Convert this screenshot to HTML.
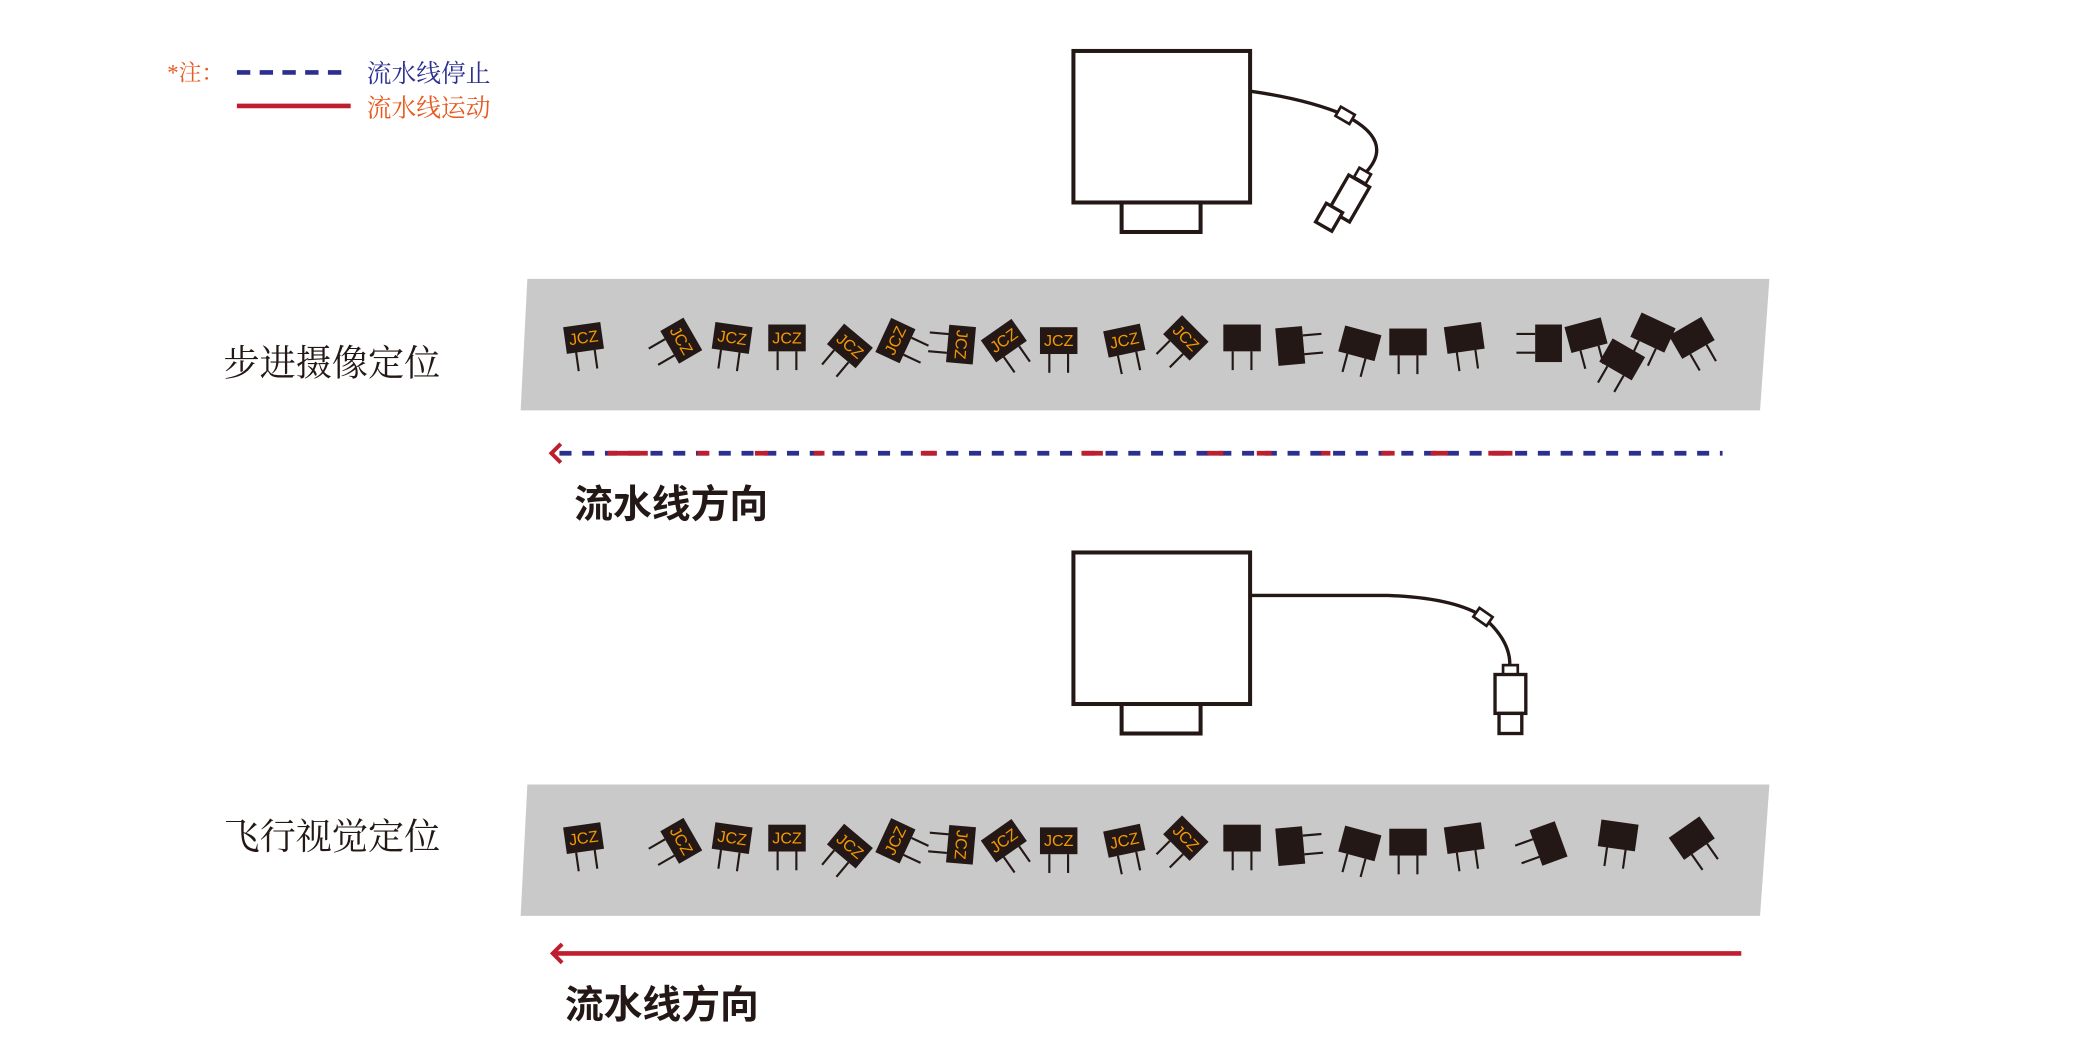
<!DOCTYPE html>
<html><head><meta charset="utf-8"><style>html,body{margin:0;padding:0;background:#fff}svg{display:block}</style></head>
<body>
<svg width="2100" height="1054" viewBox="-2 0 1569 786" preserveAspectRatio="none" xmlns="http://www.w3.org/2000/svg">
<defs>
<g id="c"><rect x="-14" y="-10" width="28" height="20" fill="#231815"/><line x1="-7" y1="10" x2="-7" y2="24" stroke="#231815" stroke-width="1.6"/><line x1="7" y1="10" x2="7" y2="24" stroke="#231815" stroke-width="1.6"/></g>
<g id="j"><use href="#c"/><text x="0" y="4" font-family="Liberation Sans, sans-serif" font-size="12" fill="#f39800" text-anchor="middle">JCZ</text></g>
</defs>
<!-- legend -->
<text x="123" y="60" font-family="Liberation Serif, 'Noto Serif CJK SC', serif" font-size="17" fill="#e8591f">*注：</text>
<line x1="175" y1="54" x2="260" y2="54" stroke="#2b2f8f" stroke-width="3.5" stroke-dasharray="10 7"/>
<text x="272" y="61" font-family="'Noto Serif CJK SC', serif" font-size="18.5" fill="#2b2f8f">流水线停止</text>
<line x1="175" y1="79" x2="260" y2="79" stroke="#be1e2d" stroke-width="3.5"/>
<text x="272" y="87" font-family="'Noto Serif CJK SC', serif" font-size="18.5" fill="#e8591f">流水线运动</text>

<!-- camera 1 -->
<g fill="#fff" stroke="#231815" stroke-width="3">
<rect x="800" y="38" width="132" height="113"/>
<rect x="836" y="151" width="59" height="22"/>
<path d="M932 68 Q975 74 1003 86 Q1040 105 1019 128" fill="none" stroke-width="2.5"/>
<rect x="-6" y="-4" width="12" height="8" transform="translate(1003,86) rotate(30)" stroke-width="2"/>
<rect x="-5" y="-4" width="10" height="8" transform="translate(1016,131) rotate(30)" stroke-width="2"/>
<rect x="-9" y="-15" width="18" height="30" transform="translate(1006,148) rotate(30)" stroke-width="2.5"/>
<rect x="-7" y="-8" width="14" height="16" transform="translate(991,162) rotate(30)" stroke-width="2.5"/>
</g>
<!-- band 1 -->
<polygon points="392,208 1320,208 1313,306 387,306" fill="#c9c9c9"/>
<text x="165" y="280" font-family="'Noto Serif CJK SC', serif" font-size="27" fill="#231815">步进摄像定位</text>
<g>
<use href="#j" transform="translate(434,252) rotate(-8)"/>
<use href="#j" transform="translate(507,254) rotate(60)"/>
<use href="#j" transform="translate(545,252) rotate(8)"/>
<use href="#j" transform="translate(586,252)"/>
<use href="#j" transform="translate(633,258) rotate(40)"/>
<use href="#j" transform="translate(667,254) rotate(-65)"/>
<use href="#j" transform="translate(716,257) rotate(95)"/>
<use href="#j" transform="translate(748,254) rotate(-35)"/>
<use href="#j" transform="translate(789,254)"/>
<use href="#j" transform="translate(838,254) rotate(-12)"/>
<use href="#j" transform="translate(884,252) rotate(45)"/>
<use href="#c" transform="translate(926,252)"/>
<use href="#c" transform="translate(962,258) rotate(-95)"/>
<use href="#c" transform="translate(1014,256) rotate(15)"/>
<use href="#c" transform="translate(1050,255)"/>
<use href="#c" transform="translate(1092,252) rotate(-8)"/>
<use href="#c" transform="translate(1155,256) rotate(90)"/>
<use href="#c" transform="translate(1183,250) rotate(-15)"/>
<use href="#c" transform="translate(1210,268) rotate(30)"/>
<use href="#c" transform="translate(1233,248) rotate(25)"/>
<use href="#c" transform="translate(1262,252) rotate(-30)"/>
</g>
<!-- dashed direction -->
<line x1="416" y1="338" x2="1285" y2="338" stroke="#2b2f8f" stroke-width="3.5" stroke-dasharray="9 8"/>
<g stroke="#be1e2d" stroke-width="3.5">
<line x1="452" y1="338" x2="482" y2="338"/><line x1="519" y1="338" x2="528" y2="338"/><line x1="562" y1="338" x2="572" y2="338"/><line x1="606" y1="338" x2="614" y2="338"/><line x1="686" y1="338" x2="698" y2="338"/><line x1="806" y1="338" x2="822" y2="338"/><line x1="900" y1="338" x2="912" y2="338"/><line x1="937" y1="338" x2="948" y2="338"/><line x1="985" y1="338" x2="992" y2="338"/><line x1="1030" y1="338" x2="1040" y2="338"/><line x1="1067" y1="338" x2="1080" y2="338"/><line x1="1110" y1="338" x2="1128" y2="338"/>
</g>
<polyline points="417,331 410,338 417,345" fill="none" stroke="#be1e2d" stroke-width="3"/>
<text x="427" y="386" font-family="'Noto Sans CJK SC', sans-serif" font-size="29" font-weight="bold" fill="#231815">流水线方向</text>

<!-- camera 2 -->
<g fill="#fff" stroke="#231815" stroke-width="3">
<rect x="800" y="412" width="132" height="113"/>
<rect x="836" y="525" width="59" height="22"/>
<path d="M932 444 L1035 444 Q1085 446 1106 460 Q1127 478 1126 497" fill="none" stroke-width="2.5"/>
<rect x="-6" y="-4" width="12" height="8" transform="translate(1106,460) rotate(35)" stroke-width="2"/>
<rect x="1121" y="496" width="11" height="7" stroke-width="2"/>
<rect x="1115" y="503" width="23" height="29" stroke-width="2.5"/>
<rect x="1118" y="532" width="17" height="15" stroke-width="2.5"/>
</g>
<!-- band 2 -->
<polygon points="392,585 1320,585 1313,683 387,683" fill="#c9c9c9"/>
<text x="165" y="633" font-family="'Noto Serif CJK SC', serif" font-size="27" fill="#231815">飞行视觉定位</text>
<g transform="translate(0,373)">
<use href="#j" transform="translate(434,252) rotate(-8)"/>
<use href="#j" transform="translate(507,254) rotate(60)"/>
<use href="#j" transform="translate(545,252) rotate(8)"/>
<use href="#j" transform="translate(586,252)"/>
<use href="#j" transform="translate(633,258) rotate(40)"/>
<use href="#j" transform="translate(667,254) rotate(-65)"/>
<use href="#j" transform="translate(716,257) rotate(95)"/>
<use href="#j" transform="translate(748,254) rotate(-35)"/>
<use href="#j" transform="translate(789,254)"/>
<use href="#j" transform="translate(838,254) rotate(-12)"/>
<use href="#j" transform="translate(884,252) rotate(45)"/>
<use href="#c" transform="translate(926,252)"/>
<use href="#c" transform="translate(962,258) rotate(-95)"/>
<use href="#c" transform="translate(1014,256) rotate(15)"/>
<use href="#c" transform="translate(1050,255)"/>
<use href="#c" transform="translate(1092,252) rotate(-8)"/>
<use href="#c" transform="translate(1155,256) rotate(70)"/>
<use href="#c" transform="translate(1207,250) rotate(8)"/>
<use href="#c" transform="translate(1262,252) rotate(-35)"/>
</g>
<line x1="412" y1="711" x2="1299" y2="711" stroke="#be1e2d" stroke-width="3.5"/>
<polyline points="418,704 411,711 418,718" fill="none" stroke="#be1e2d" stroke-width="3"/>
<text x="420" y="759" font-family="'Noto Sans CJK SC', sans-serif" font-size="29" font-weight="bold" fill="#231815">流水线方向</text>
</svg>
</body></html>
